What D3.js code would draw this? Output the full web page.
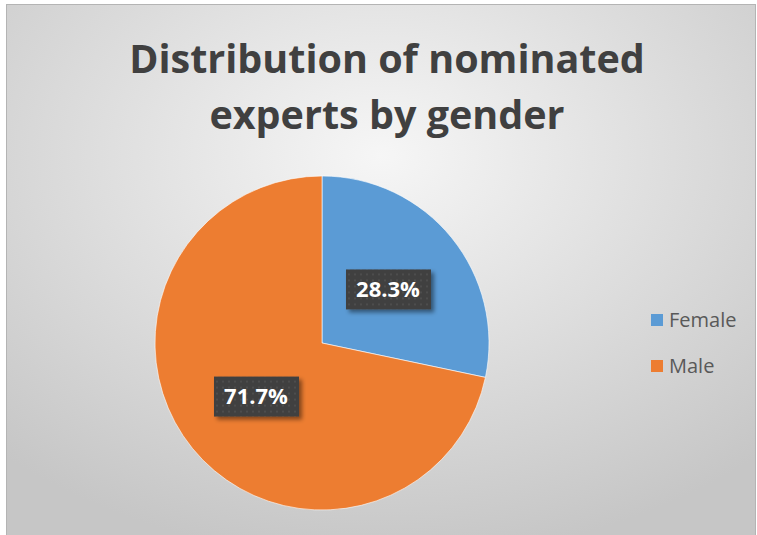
<!DOCTYPE html>
<html>
<head>
<meta charset="utf-8">
<script src="https://cdn.jsdelivr.net/npm/d3@7"></script>
<style>
  body { margin: 0; background: #fff; }
  svg { display: block; }
</style>
</head>
<body>
<div id="chart"></div>
<script>
const categories = ["Female", "Male"];
const values = [28.3, 71.7];
const colors = ["#5b9bd5", "#ed7d31"];
const titleLines = ["Distribution of nominated", "experts by gender"];

const width = 757, height = 535;
const cx = 322, cy = 343, radius = 167;

const svg = d3.select("#chart").append("svg")
    .attr("width", width).attr("height", height);

const defs = svg.append("defs");
const grad = defs.append("radialGradient").attr("id", "bg")
    .attr("cx", "50%").attr("cy", "28%").attr("r", "75%");
grad.append("stop").attr("offset", "0%").attr("stop-color", "#f6f6f6");
grad.append("stop").attr("offset", "100%").attr("stop-color", "#c6c6c6");

// dotted dark pattern for the data labels
const pat = defs.append("pattern").attr("id", "dots")
    .attr("width", 6).attr("height", 6).attr("patternUnits", "userSpaceOnUse");
pat.append("rect").attr("width", 6).attr("height", 6).attr("fill", "#3f3f3f");
pat.append("rect").attr("x", 2).attr("y", 2).attr("width", 2).attr("height", 2).attr("fill", "#4d4d4d");

const shadow = defs.append("filter").attr("id", "shadow")
    .attr("x", "-20%").attr("y", "-20%").attr("width", "150%").attr("height", "160%");
shadow.append("feDropShadow").attr("dx", 3).attr("dy", 3).attr("stdDeviation", 2)
    .attr("flood-color", "#000").attr("flood-opacity", 0.45);

svg.append("rect").attr("x", 6.5).attr("y", 4.5).attr("width", 749).attr("height", 540)
    .attr("fill", "url(#bg)").attr("stroke", "#b4b4b4");

// title
svg.append("g").selectAll("text").data(titleLines).join("text")
    .attr("x", 387).attr("y", (d, i) => 73 + i * 56)
    .attr("text-anchor", "middle")
    .attr("font-family", "'Open Sans', sans-serif")
    .attr("font-weight", "bold").attr("font-size", 39.5)
    .attr("fill", "#404040")
    .text(d => d);

const pie = d3.pie().sort(null).value(d => d);
const arcs = pie(values);
const arc = d3.arc().innerRadius(0).outerRadius(radius);
const labelArc = d3.arc().innerRadius(85).outerRadius(85);

const g = svg.append("g").attr("transform", `translate(${cx},${cy})`);
g.selectAll("path").data(arcs).join("path")
    .attr("d", arc)
    .attr("fill", (d, i) => colors[i])
    .attr("stroke", "#ffffff").attr("stroke-opacity", 0.6).attr("stroke-width", 1);

const labels = g.selectAll("g.lbl").data(arcs).join("g").attr("class", "lbl")
    .attr("transform", d => `translate(${labelArc.centroid(d)})`);
labels.append("rect")
    .attr("x", -42).attr("y", -20).attr("width", 85).attr("height", 40)
    .attr("fill", "url(#dots)").attr("filter", "url(#shadow)");
labels.append("text")
    .attr("text-anchor", "middle").attr("dy", "0.36em")
    .attr("font-family", "'Open Sans', sans-serif")
    .attr("font-weight", "bold").attr("font-size", 22)
    .attr("fill", "#ffffff")
    .text((d, i) => values[i].toFixed(1) + "%");

// legend
const leg = svg.append("g").attr("transform", "translate(651,314)");
const item = leg.selectAll("g").data(categories).join("g")
    .attr("transform", (d, i) => `translate(0,${i * 46})`);
item.append("rect").attr("width", 12).attr("height", 12)
    .attr("fill", (d, i) => colors[i]);
item.append("text").attr("x", 18).attr("y", 6).attr("dy", "0.36em")
    .attr("font-family", "'Open Sans', sans-serif").attr("font-size", 20)
    .attr("fill", "#595959")
    .text(d => d);
</script>
</body>
</html>
